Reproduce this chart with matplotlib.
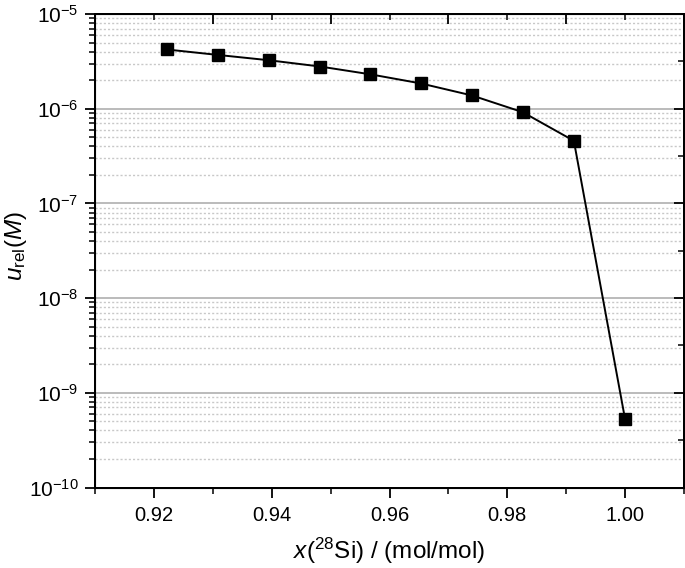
import matplotlib
matplotlib.use("Agg")
import matplotlib.pyplot as plt
import matplotlib.ticker as mticker
import numpy as np

x_values = [0.9222, 0.9308, 0.9395, 0.9482, 0.9567, 0.9653, 0.9740, 0.9826, 0.9913, 1.0000]
u_rel = [4.22e-6, 3.70e-6, 3.25e-6, 2.79e-6, 2.31e-6, 1.85e-6, 1.38e-6, 9.2e-7, 4.58e-7, 5.25e-10]
x_ticks = [0.92, 0.94, 0.96, 0.98, 1.00]
x_tick_labels = ["0.92", "0.94", "0.96", "0.98", "1.00"]

plt.rcParams['font.family'] = ['Liberation Sans', 'DejaVu Sans']
plt.rcParams['mathtext.fontset'] = 'custom'
plt.rcParams['mathtext.rm'] = 'Liberation Sans'
plt.rcParams['mathtext.it'] = 'Liberation Sans:italic'
plt.rcParams['mathtext.bf'] = 'Liberation Sans:bold'

fig = plt.figure(figsize=(6.85, 5.68), dpi=100)
ax = fig.add_axes([95/685, 1 - 487.5/568, (684 - 95)/685, (487.5 - 14)/568])

ax.set_yscale('log')
ax.set_xlim(0.91, 1.01)
ax.set_ylim(1e-10, 1e-5)

# grid
ax.yaxis.set_major_locator(mticker.LogLocator(base=10, numticks=20))
ax.yaxis.set_minor_locator(mticker.LogLocator(base=10, subs=np.arange(2, 10), numticks=20))
ax.yaxis.set_minor_formatter(mticker.NullFormatter())
ax.grid(True, which='major', axis='y', color='#a8a8a8', lw=1.1, ls='-', zorder=0)
ax.grid(True, which='minor', axis='y', color='#c8c8c8', lw=1.0, ls=(0, (1.5, 1.5)), zorder=0)
ax.set_axisbelow(True)

ax.plot(x_values, u_rel, color='black', lw=1.4, marker='s', markersize=8,
        markerfacecolor='black', markeredgecolor='black', zorder=3, clip_on=False)

ax.set_xticks(x_ticks)
ax.set_xticklabels(x_tick_labels)
ax.xaxis.set_minor_locator(mticker.FixedLocator([0.91, 0.93, 0.95, 0.97, 0.99, 1.01]))

def fmt(v, pos):
    e = int(round(np.log10(v)))
    return r'$\mathregular{10^{%d}}$' % e
ax.yaxis.set_major_formatter(mticker.FuncFormatter(fmt))

ax.tick_params(axis='x', which='major', direction='out', length=7, width=1.3, labelsize=14.5, pad=6)
ax.tick_params(axis='y', which='major', direction='out', length=7, width=1.3, labelsize=15, pad=5)
ax.tick_params(axis='both', which='minor', direction='out', length=4, width=1.1)

for s in ax.spines.values():
    s.set_linewidth(1.4)

# top axis
axt = ax.twiny()
axt.set_xlim(0.91, 1.01)
axt.xaxis.set_major_locator(mticker.FixedLocator([0.93, 0.95, 0.97, 0.99]))
axt.xaxis.set_minor_locator(mticker.FixedLocator([0.92, 0.94, 0.96, 0.98, 1.00]))
axt.xaxis.set_major_formatter(mticker.NullFormatter())
axt.tick_params(axis='x', which='major', direction='in', length=7, width=1.3, labeltop=False)
axt.tick_params(axis='x', which='minor', direction='in', length=4, width=1.1)
for s in axt.spines.values():
    s.set_linewidth(1.4)

# right axis
axr = ax.twinx()
axr.set_yscale('log')
axr.set_ylim(1e-10, 1e-5)
axr.yaxis.set_major_locator(mticker.LogLocator(base=10, numticks=20))
axr.yaxis.set_minor_locator(mticker.FixedLocator([10**(k + 0.5) for k in range(-10, -5)]))
axr.yaxis.set_major_formatter(mticker.NullFormatter())
axr.yaxis.set_minor_formatter(mticker.NullFormatter())
axr.tick_params(axis='y', which='major', direction='in', length=7, width=1.3)
axr.tick_params(axis='y', which='minor', direction='in', length=4, width=1.1)

ax.set_xlabel(r'$x$($\mathregular{^{28}}$Si) / (mol/mol)', fontsize=17.5, labelpad=8)
ax.set_ylabel(r'$u_{\mathrm{rel}}(M)$', fontsize=17.5)
ax.yaxis.set_label_coords(-0.112, 0.51)

fig.savefig('out.png', dpi=100)
